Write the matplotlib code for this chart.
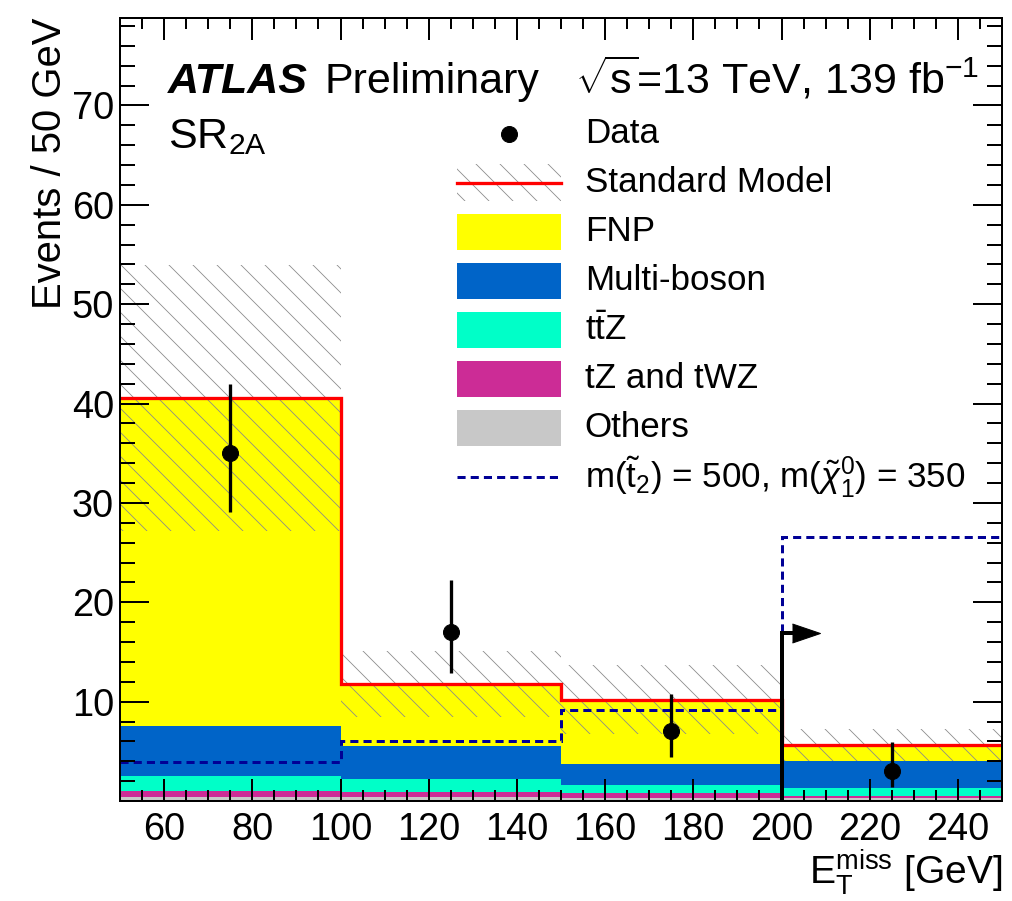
import numpy as np
import matplotlib
matplotlib.use("Agg")
import matplotlib.pyplot as plt
from matplotlib.patches import Rectangle
from matplotlib.lines import Line2D
from matplotlib.ticker import MultipleLocator

plt.rcParams['font.family'] = ['Liberation Sans', 'DejaVu Sans']
plt.rcParams['mathtext.fontset'] = 'custom'
plt.rcParams['mathtext.rm'] = 'Liberation Sans'
plt.rcParams['mathtext.it'] = 'Liberation Sans:italic'
plt.rcParams['mathtext.bf'] = 'Liberation Sans:bold'
plt.rcParams['hatch.linewidth'] = 0.8

# binning in MET
bin_edges = [50, 100, 150, 200, 250]

# stacked backgrounds (bottom to top)
others = [0.4, 0.4, 0.35, 0.3]
tz_twz = [0.6, 0.55, 0.45, 0.2]
ttz = [1.55, 1.25, 0.8, 0.85]
multiboson = [5.0, 3.35, 2.1, 2.7]
fnp = [33.0, 6.25, 6.5, 1.6]
sm_unc = [13.4, 3.3, 3.45, 1.6]

# data with poisson errors
data = [35, 17, 7, 3]
data_err_up = [7.0, 5.2, 3.8, 2.9]
data_err_dn = [5.9, 4.1, 2.6, 1.6]

# signal m(t2)=500, m(chi)=350
signal = [3.9, 6.0, 9.15, 26.6]

# SR cut
cut_value = 200
cut_arrow_height = 16.9

bkg_names = ['Others', 'tZ and tWZ', r't$\bar{\mathrm{t}}$Z', 'Multi-boson', 'FNP']
bkg_vals = [others, tz_twz, ttz, multiboson, fnp]
bkg_colors = ['#c8c8c8', '#cc2c96', '#00ffc8', '#0064c8', '#ffff00']
hatch_col = '#8a8a8a'

fig = plt.figure(figsize=(1012 / 72, 901 / 72), dpi=72)
ax = fig.add_axes([120 / 1012, 1 - 801 / 901, 882 / 1012, 783 / 901])

edges = np.array(bin_edges)
centers = 0.5 * (edges[1:] + edges[:-1])
bottom = np.zeros(len(data))
for vals, col in zip(bkg_vals, bkg_colors):
    top = bottom + np.array(vals)
    ax.stairs(top, edges, baseline=bottom.copy(), fill=True, color=col, linewidth=0)
    bottom = top
sm_total = bottom

unc = np.array(sm_unc)
ax.stairs(sm_total + unc, edges, baseline=sm_total - unc, fill=True,
          facecolor='none', edgecolor=hatch_col, hatch='\\', linewidth=0)
ax.stairs(sm_total, edges, baseline=None, color='red', linewidth=3.3)
ax.stairs(signal, edges, baseline=None, color='#000096', linewidth=3,
          linestyle=(0, (2.7, 1.7)))

ax.errorbar(centers, data, yerr=[data_err_dn, data_err_up], fmt='o', color='black',
            markersize=16, elinewidth=3.3, capsize=0)

# cut arrow
ax.plot([cut_value, cut_value, cut_value + 2.3], [0, cut_arrow_height, cut_arrow_height],
        color='black', linewidth=4, solid_joinstyle='miter')
ax.plot([cut_value + 5.5], [cut_arrow_height], marker=[(-1, -0.68), (1, 0), (-1, 0.68)],
        markersize=28, color='black', linestyle='none')

ax.set_xlim(50, 250)
ax.set_ylim(0, 78.8)
ax.set_yticks([10, 20, 30, 40, 50, 60, 70])
ax.yaxis.set_minor_locator(MultipleLocator(2))
ax.xaxis.set_major_locator(MultipleLocator(20))
ax.xaxis.set_minor_locator(MultipleLocator(5))
ax.tick_params(axis='both', which='both', direction='in', top=True, right=True, width=2)
ax.tick_params(axis='y', which='major', length=29, labelsize=38, pad=6)
ax.tick_params(axis='y', which='minor', length=15)
ax.tick_params(axis='x', which='major', length=22, labelsize=38, pad=11)
ax.tick_params(axis='x', which='minor', length=11)
for sp in ax.spines.values():
    sp.set_linewidth(2)
    sp.set_zorder(10)

ax.set_ylabel('Events / 50 GeV', fontsize=40, loc='top')
ax.yaxis.set_label_coords(-0.058, 1.0)
ax.set_xlabel(r'E$_\mathrm{T}^\mathrm{miss}$ [GeV]', fontsize=39, loc='right')
ax.xaxis.set_label_coords(1.0, -0.059)

ax.text(0.054, 0.904, 'ATLAS', transform=ax.transAxes, fontsize=43,
        fontweight='bold', fontstyle='italic', va='baseline')
ax.text(0.232, 0.904, 'Preliminary', transform=ax.transAxes, fontsize=43, va='baseline')
ax.text(0.516, 0.904, r'$\sqrt{\mathrm{s}}$=13 TeV, 139 fb$^{-1}$', transform=ax.transAxes,
        fontsize=43, va='baseline')
ax.text(0.054, 0.834, r'SR$_\mathrm{2A}$', transform=ax.transAxes, fontsize=43, va='baseline')

# legend, drawn by hand to follow the ROOT layout
leg_x0, leg_x1, leg_tx = 0.382, 0.5, 0.527
leg_y0, leg_dy, box_h = 0.852, 0.0626, 0.047
labels = ['Data', 'Standard Model'] + bkg_names[::-1] + \
    [r'm($\tilde{\mathrm{t}}_2$) = 500, m($\tilde{\chi}^0_1$) = 350']
for i, lab in enumerate(labels):
    yc = leg_y0 - i * leg_dy
    ax.text(leg_tx, yc, lab, transform=ax.transAxes, fontsize=35, va='center')
    if lab == 'Data':
        ax.add_line(Line2D([(leg_x0 + leg_x1) / 2], [yc], marker='o', markersize=16,
                           color='black', transform=ax.transAxes))
    elif lab == 'Standard Model':
        ax.add_patch(Rectangle((leg_x0, yc - box_h / 2), leg_x1 - leg_x0, box_h,
                               transform=ax.transAxes, facecolor='none',
                               edgecolor=hatch_col, hatch='\\', linewidth=0))
        ax.add_line(Line2D([leg_x0, leg_x1], [yc, yc], color='red', linewidth=3.3,
                           transform=ax.transAxes))
    elif lab in bkg_names:
        col = bkg_colors[bkg_names.index(lab)]
        ax.add_patch(Rectangle((leg_x0, yc - box_h / 2), leg_x1 - leg_x0, box_h,
                               transform=ax.transAxes, facecolor=col, linewidth=0))
    else:
        ax.add_line(Line2D([leg_x0, leg_x1], [yc, yc], color='#000096', linewidth=3,
                           linestyle=(0, (2.7, 1.7)), transform=ax.transAxes))

fig.savefig('out.png', dpi=72)
